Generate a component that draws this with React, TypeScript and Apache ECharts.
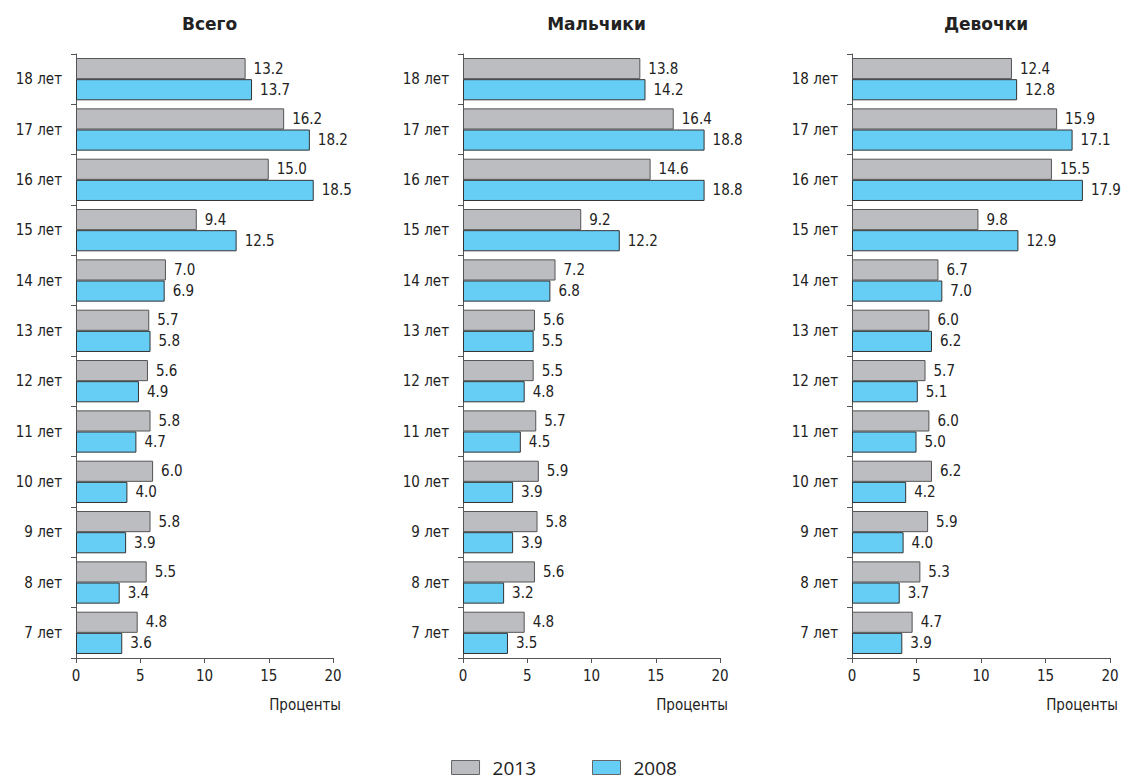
import React, { useEffect, useRef } from "react";
import * as echarts from "echarts";

const categories = ["7 лет", "8 лет", "9 лет", "10 лет", "11 лет", "12 лет", "13 лет", "14 лет", "15 лет", "16 лет", "17 лет", "18 лет"];
const panelTitles = ["Всего", "Мальчики", "Девочки"];
const seriesNames = ["2013", "2008"];

const total2013 = [4.8, 5.5, 5.8, 6.0, 5.8, 5.6, 5.7, 7.0, 9.4, 15.0, 16.2, 13.2];
const total2008 = [3.6, 3.4, 3.9, 4.0, 4.7, 4.9, 5.8, 6.9, 12.5, 18.5, 18.2, 13.7];
const boys2013 = [4.8, 5.6, 5.8, 5.9, 5.7, 5.5, 5.6, 7.2, 9.2, 14.6, 16.4, 13.8];
const boys2008 = [3.5, 3.2, 3.9, 3.9, 4.5, 4.8, 5.5, 6.8, 12.2, 18.8, 18.8, 14.2];
const girls2013 = [4.7, 5.3, 5.9, 6.2, 6.0, 5.7, 6.0, 6.7, 9.8, 15.5, 15.9, 12.4];
const girls2008 = [3.9, 3.7, 4.0, 4.2, 5.0, 5.1, 6.2, 7.0, 12.9, 17.9, 17.1, 12.8];

const xAxisTitle = "Проценты";

const FONT = "'Liberation Sans Narrow', 'DejaVu Sans Condensed', 'Liberation Sans', sans-serif";
const GRAY = "#bcbdc1";
const BLUE = "#66cdf5";

export default function App() {
  const ref = useRef<HTMLDivElement>(null);
  useEffect(() => {
    if (!ref.current) return;
    const chart = echarts.init(ref.current, null, { renderer: "svg" });
    const panels = [
      { a: total2013, b: total2008, left: 76, right: 333 },
      { a: boys2013, b: boys2008, left: 463, right: 720 },
      { a: girls2013, b: girls2008, left: 852, right: 1110 },
    ];
    const grids: any[] = [];
    const xAxes: any[] = [];
    const yAxes: any[] = [];
    const series: any[] = [];
    const titles: any[] = [];
    const graphics: any[] = [];
    panels.forEach((p, i) => {
      grids.push({ left: p.left, width: p.right - p.left, top: 54, height: 604 });
      xAxes.push({
        type: "value",
        gridIndex: i,
        min: 0,
        max: 20,
        interval: 5,
        splitLine: { show: false },
        axisLine: { show: true, lineStyle: { color: "#555", width: 1 } },
        axisTick: { show: true, length: 5, lineStyle: { color: "#555" } },
        axisLabel: { fontFamily: FONT, fontSize: 15, color: "#222", margin: 10 },
      });
      yAxes.push({
        type: "category",
        gridIndex: i,
        data: categories,
        axisLine: { show: true, lineStyle: { color: "#555", width: 1 } },
        axisTick: { show: true, length: 5, lineStyle: { color: "#555" } },
        axisLabel: { fontFamily: FONT, fontSize: 15, color: "#222", margin: 14 },
      });
      const label = {
        show: true,
        position: "right",
        distance: 8,
        fontFamily: FONT,
        fontSize: 15,
        color: "#222",
        formatter: (d: any) => Number(d.value).toFixed(1),
      };
      series.push({
        name: seriesNames[0],
        type: "bar",
        xAxisIndex: i,
        yAxisIndex: i,
        data: p.a,
        barGap: "0%",
        barCategoryGap: "16%",
        itemStyle: { color: GRAY, borderColor: "#555", borderWidth: 1 },
        label,
      });
      series.push({
        name: seriesNames[1],
        type: "bar",
        xAxisIndex: i,
        yAxisIndex: i,
        data: p.b,
        barGap: "0%",
        barCategoryGap: "16%",
        itemStyle: { color: BLUE, borderColor: "#333", borderWidth: 1 },
        label,
      });
      titles.push({
        text: panelTitles[i],
        left: (p.left + p.right) / 2,
        top: 10,
        textAlign: "center",
        textStyle: { fontFamily: "'DejaVu Sans', sans-serif", fontSize: 17, fontWeight: "bold", color: "#222" },
      });
      graphics.push({
        type: "text",
        right: 1128 - p.right - 8,
        top: 697,
        style: { text: xAxisTitle, fontFamily: FONT, fontSize: 15, fill: "#222" },
      });
    });
    chart.setOption({
      animation: false,
      backgroundColor: "#fff",
      title: titles,
      grid: grids,
      xAxis: xAxes,
      yAxis: yAxes,
      series,
      graphic: graphics,
      legend: {
        data: seriesNames,
        icon: "rect",
        left: "center",
        top: 753,
        itemWidth: 28,
        itemHeight: 14,
        itemGap: 56,
        itemStyle: { borderColor: "#666", borderWidth: 1 },
        textStyle: { fontFamily: "'Open Sans', sans-serif", fontSize: 19, color: "#222", padding: [0, 0, 0, 8] },
      },
    });
    return () => chart.dispose();
  }, []);
  return <div ref={ref} style={{ width: 1128, height: 779, position: "absolute", left: 0, top: 0 }} />;
}
